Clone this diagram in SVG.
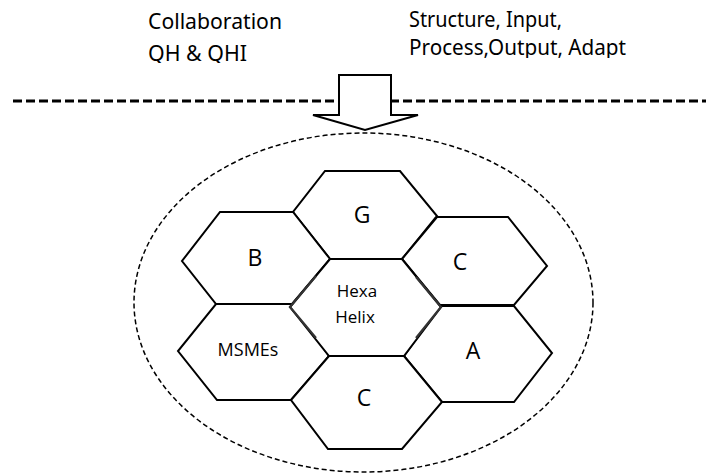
<svg xmlns="http://www.w3.org/2000/svg" width="706" height="473" viewBox="0 0 706 473">
<style>
.hex{fill:#fff;stroke:#000;stroke-width:2;stroke-linejoin:miter}
.hexc{fill:none;stroke:#333;stroke-width:2.2}
.top{font-family:"Noto Sans","Open Sans","Liberation Sans",sans-serif;font-size:21px;fill:#000}
.lbl{font-family:"Open Sans","Noto Sans","Liberation Sans",sans-serif;fill:#000;text-anchor:middle}
</style>
<defs>
<clipPath id="clipL"><rect x="0" y="0" width="380" height="63"/></clipPath>
<clipPath id="clipR"><rect x="380" y="0" width="326" height="58"/></clipPath>
</defs>
<rect width="706" height="473" fill="#fff"/>
<g id="header-left" clip-path="url(#clipL)">
<text class="top" x="148" y="29" textLength="134" lengthAdjust="spacingAndGlyphs">Collaboration</text>
<text class="top" x="148" y="61" textLength="99" lengthAdjust="spacingAndGlyphs">QH &amp; QHI</text>
</g>
<g id="header-right" clip-path="url(#clipR)">
<text class="top" x="409" y="27" textLength="153" lengthAdjust="spacingAndGlyphs">Structure, Input,</text>
<text class="top" x="409" y="55" textLength="217" lengthAdjust="spacingAndGlyphs">Process,Output, Adapt</text>
</g>
<g id="connectors">
<line x1="13" y1="101" x2="706" y2="101" stroke="#000" stroke-width="3" stroke-dasharray="9 4"/>
<polygon points="339,75 391,75 391,115 418,115 365,130 313,115 339,115" fill="#fff" stroke="#000" stroke-width="2"/>
</g>
<g id="boundary">
<ellipse cx="363.5" cy="302.5" rx="229.5" ry="169.5" fill="none" stroke="#000" stroke-width="1.5" stroke-dasharray="5 3"/>
</g>
<g id="node-G">
<polygon class="hex" points="325,171 400,171 437,216 402,259 330,259 293,212"/>
<text class="lbl" x="362" y="223" font-size="23">G</text>
</g>
<g id="node-B">
<polygon class="hex" points="220,212 293,212 330,259 292,304 216,304 182,261"/>
<text class="lbl" x="255" y="266" font-size="23">B</text>
</g>
<g id="node-C-upper">
<polygon class="hex" points="437,217 508,217 547,266 514,305 440,305 402,259"/>
<text class="lbl" x="460" y="270" font-size="23">C</text>
</g>
<g id="node-MSMEs">
<polygon class="hex" points="216,304 292,304 329,356 291,400 217,400 178,351"/>
<text class="lbl" x="248" y="356" font-size="18">MSMEs</text>
</g>
<g id="node-A">
<polygon class="hex" points="440,306 514,306 552,353 514,402 442,402 404,356"/>
<text class="lbl" x="473" y="359" font-size="23">A</text>
</g>
<g id="node-C-lower">
<polygon class="hex" points="329,356 404,356 442,402 402,449 328,449 291,400"/>
<text class="lbl" x="364" y="406" font-size="23">C</text>
</g>
<g id="node-HexaHelix">
<polygon class="hex" points="330,259 402,259 441,307 404,356 329,356 290,307"/>
<polyline class="hexc" points="316,276 290,307 316,338"/>
<polyline class="hexc" points="416,277 441,307 416,338"/>
<text class="lbl" x="357" y="297" font-size="17">Hexa</text>
<text class="lbl" x="355" y="323" font-size="17">Helix</text>
</g>
</svg>
